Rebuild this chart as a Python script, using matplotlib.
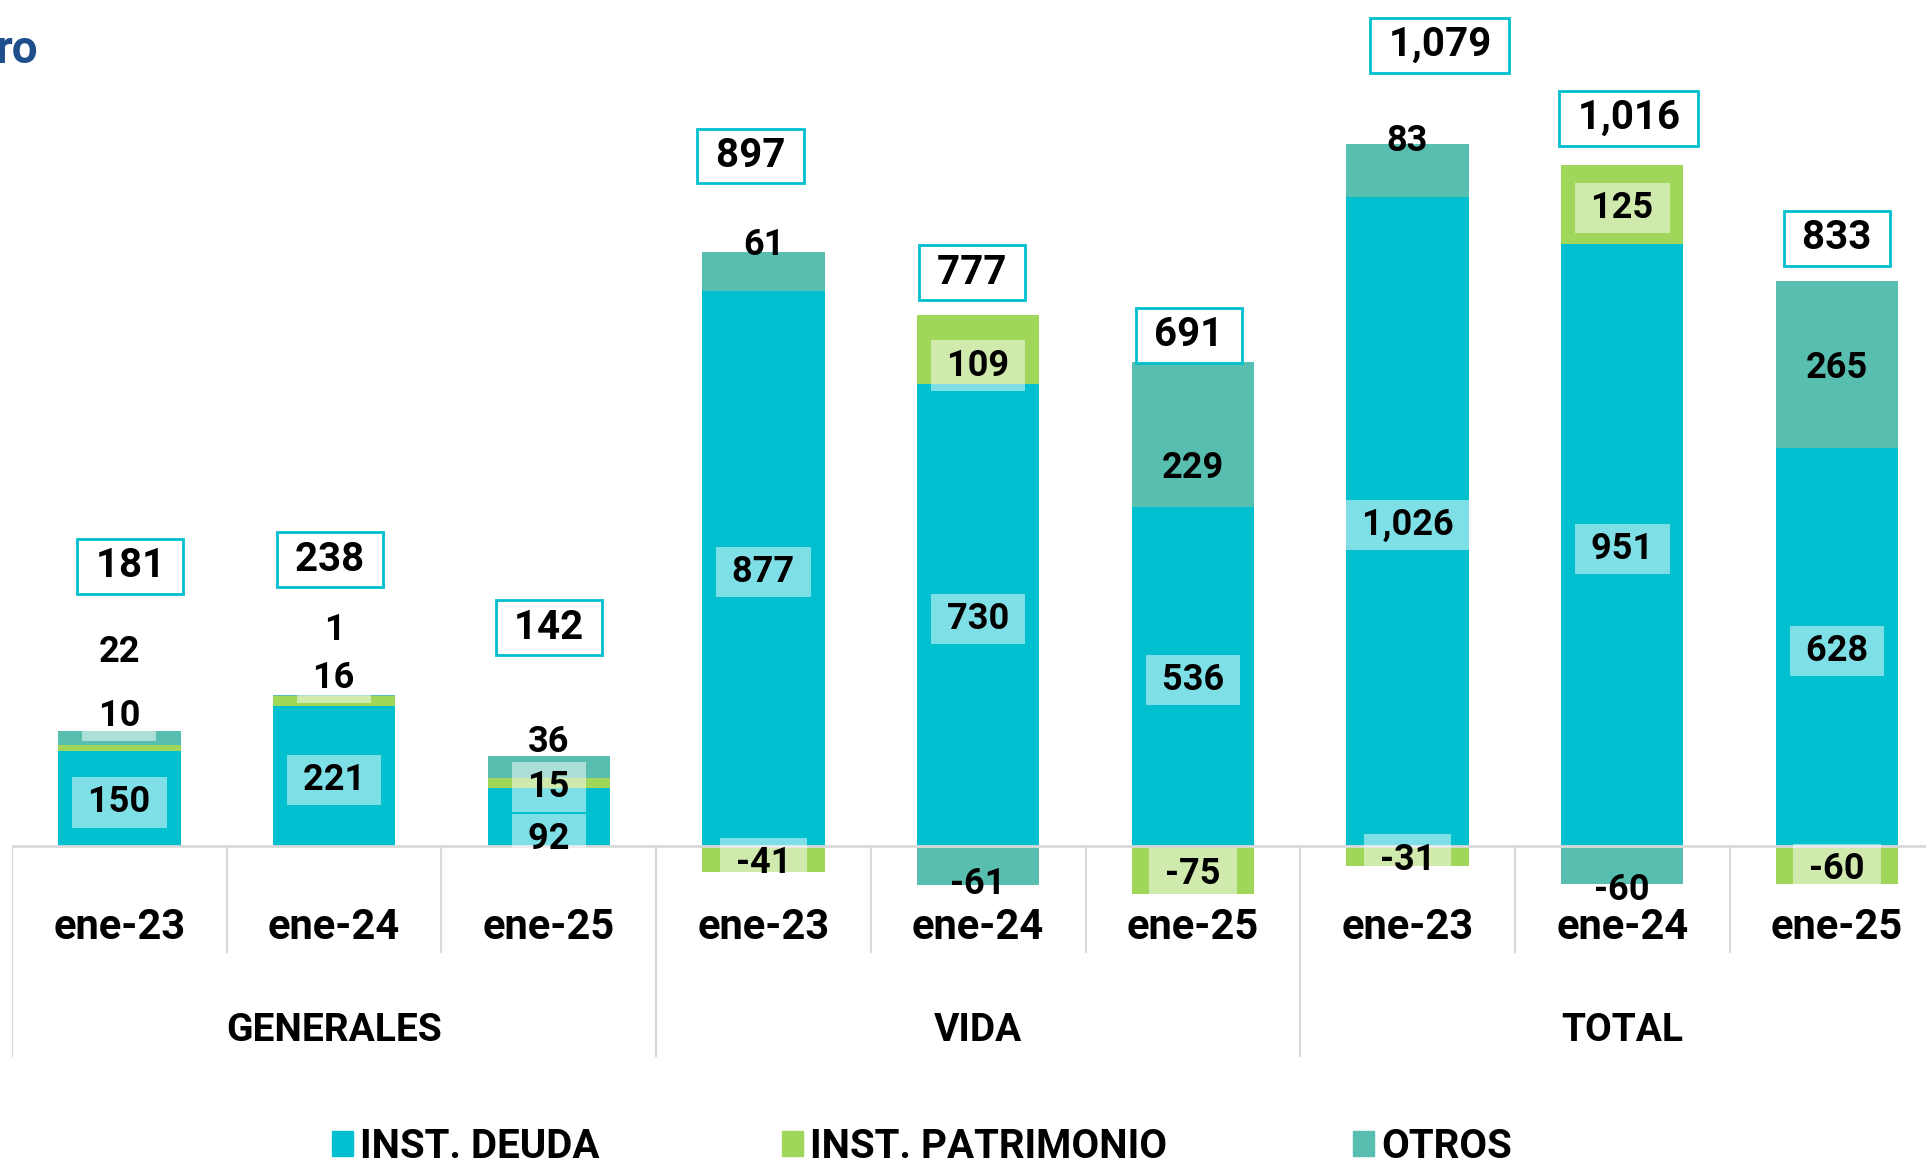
import numpy as np
import matplotlib.pyplot as plt
from matplotlib.patches import Rectangle

plt.rcParams['font.family'] = ['Roboto', 'DejaVu Sans']
plt.rcParams['font.weight'] = 'bold'

# data
groups = ['GENERALES', 'VIDA', 'TOTAL']
periods = ['ene-23', 'ene-24', 'ene-25']
deuda = [150, 221, 92, 877, 730, 536, 1026, 951, 628]
patrimonio = [10, 16, 15, -41, 109, -75, -31, 125, -60]
otros = [22, 1, 36, 61, -61, 229, 83, -60, 265]
totales = [181, 238, 142, 897, 777, 691, 1079, 1016, 833]

# colours
C_DEUDA = '#00bfcf'
C_PAT = '#a0d65a'
C_OTROS = '#58bfb0'
C_GRID = '#d9d9d9'

# label placement (as set by hand in the original)
total_y = [448, 458, 351, 1096, 912, 813, 1271, 1156, 966]
total_dx = [0.05, -0.02, 0, -0.06, -0.03, -0.02, 0.15, 0.03, 0]
label_y = {
    ('INST. PATRIMONIO', 0): 211, ('OTROS', 0): 312,
    ('INST. PATRIMONIO', 1): 272, ('OTROS', 1): 347,
    ('INST. DEUDA', 2): 17, ('INST. PATRIMONIO', 2): 99, ('OTROS', 2): 171,
    ('OTROS', 3): 956, ('OTROS', 4): -54, ('OTROS', 5): 603,
    ('INST. PATRIMONIO', 4): 765,
    ('OTROS', 6): 1119, ('OTROS', 7): -64,
}
DY = -6  # matplotlib centres on the full text box, nudge down to the glyphs

W, H = 1926, 1160
fig = plt.figure(figsize=(W / 100, H / 100), dpi=100)
ax = fig.add_axes([12 / W, 0, 9 * 214.7 / W, 1])
ax.set_xlim(-0.5, 8.5)
ax.set_ylim(-496, 1336.5)
ax.axis('off')

x = np.arange(len(deuda))
series = [('INST. DEUDA', deuda, C_DEUDA, True),
          ('INST. PATRIMONIO', patrimonio, C_PAT, True),
          ('OTROS', otros, C_OTROS, False)]

pos = np.zeros(len(x))
neg = np.zeros(len(x))
for name, vals, color, boxed in series:
    vals = np.array(vals, float)
    bottom = np.where(vals >= 0, pos, neg)
    ax.bar(x, vals, 0.57, bottom=bottom, color=color, zorder=2)
    mids = bottom + vals / 2
    for i, v in enumerate(vals):
        y = label_y.get((name, i), mids[i]) + DY
        if boxed:
            ax.text(i, y, f' {int(v):,} ', ha='center', va='center', fontsize=26,
                    zorder=4, bbox=dict(boxstyle='square,pad=0.2', fc='white',
                                        ec='none', alpha=0.5))
        else:
            ax.text(i, y, f'{int(v):,}', ha='center', va='center', fontsize=26,
                    zorder=4)
    pos += np.clip(vals, 0, None)
    neg += np.clip(vals, None, 0)

# totals in framed boxes
for i, t in enumerate(totales):
    ax.text(i + total_dx[i], total_y[i] + DY, f' {t:,} ', ha='center', va='center',
            fontsize=29, zorder=5,
            bbox=dict(boxstyle='square,pad=0.21', fc='white', ec=C_DEUDA, lw=2))

# zero line and category dividers
ax.axhline(0, color=C_GRID, lw=2, zorder=3)
for b in [0.5, 1.5, 3.5, 4.5, 6.5, 7.5]:
    ax.plot([b, b], [0, -167], color=C_GRID, lw=1.5, zorder=1)
for b in [-0.5, 2.5, 5.5, 8.5]:
    ax.plot([b, b], [0, -332], color=C_GRID, lw=1.5, zorder=1)

for i in x:
    ax.text(i, -122 + DY, periods[i % 3], ha='center', va='center', fontsize=30)
for g, name in enumerate(groups):
    ax.text(3 * g + 1, -285 + DY, name, ha='center', va='center', fontsize=28)

# title fragment at the cropped left edge
fig.text(38 / W, 1 - 50 / H, 'ro', ha='right', va='center', color='#1f4e8c',
         fontsize=33)

# legend
for (name, _, color, _), sx in zip(series, [332, 782, 1353]):
    fig.add_artist(Rectangle((sx / W, 1 - 1156 / H), 21 / W, 25 / H,
                             transform=fig.transFigure, color=color))
    fig.text((sx + 28) / W, 1 - 1147 / H, name, ha='left', va='center',
             fontsize=29)

fig.savefig('out.png', dpi=100)
